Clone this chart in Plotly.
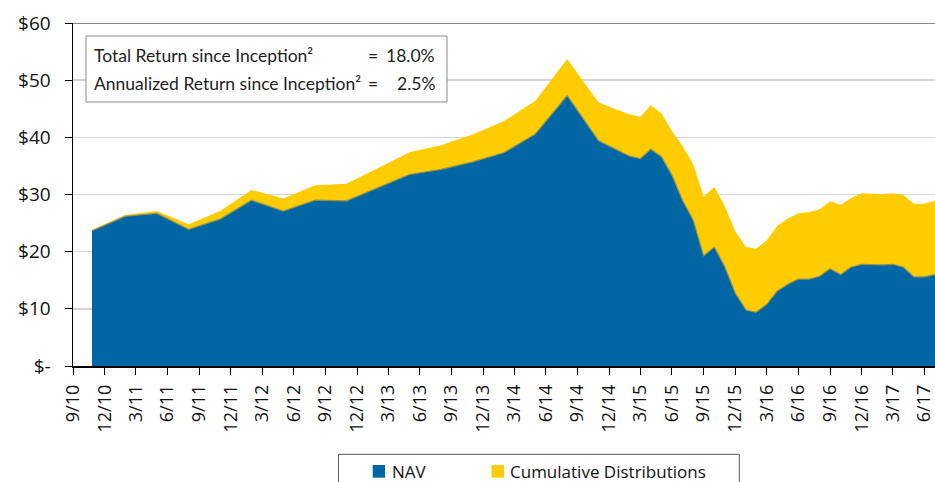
import plotly.graph_objects as go

# ---------------- data ----------------
dates = ["2010-11-24", "2011-02-28", "2011-05-31", "2011-08-31", "2011-11-30",
         "2012-02-29", "2012-05-31", "2012-08-31", "2012-11-30", "2013-05-31",
         "2013-08-31", "2013-11-30", "2014-02-28", "2014-05-31", "2014-08-31",
         "2014-11-30", "2015-02-28", "2015-03-31", "2015-04-30", "2015-05-31",
         "2015-06-30", "2015-07-31", "2015-08-31", "2015-09-30", "2015-10-31",
         "2015-11-30", "2015-12-31", "2016-01-31", "2016-02-29", "2016-03-31",
         "2016-04-30", "2016-05-31", "2016-06-30", "2016-07-31", "2016-08-31",
         "2016-09-30", "2016-10-31", "2016-11-30", "2016-12-31", "2017-01-31",
         "2017-02-28", "2017-03-31", "2017-04-30", "2017-05-31", "2017-06-30",
         "2017-07-31"]

nav = [23.65, 26.2, 26.7, 23.9, 25.7, 29.0, 27.1, 29.0, 28.9, 33.5,
       34.4, 35.7, 37.3, 40.6, 47.3, 39.4, 36.7, 36.3, 37.9, 36.6,
       33.4, 29.0, 25.5, 19.3, 20.8, 17.4, 12.7, 9.8, 9.4, 10.8,
       13.1, 14.3, 15.2, 15.2, 15.7, 17.0, 16.0, 17.3, 17.8, 17.7,
       17.7, 17.8, 17.3, 15.6, 15.6, 16.0]

cum_dist = [0.2, 0.2, 0.4, 0.9, 1.4, 1.8, 2.2, 2.6, 3.0, 3.9,
            4.2, 4.8, 5.5, 5.8, 6.4, 6.7, 7.3, 7.3, 7.7, 7.6,
            7.7, 9.5, 9.8, 10.3, 10.5, 10.6, 10.8, 11.0, 11.1, 11.2,
            11.4, 11.5, 11.5, 11.7, 11.7, 11.8, 12.2, 12.1, 12.4, 12.4,
            12.4, 12.4, 12.6, 12.8, 12.8, 12.9]

tick_dates = ["2010-09-30", "2010-12-31", "2011-03-31", "2011-06-30", "2011-09-30",
              "2011-12-31", "2012-03-31", "2012-06-30", "2012-09-30", "2012-12-31",
              "2013-03-31", "2013-06-30", "2013-09-30", "2013-12-31", "2014-03-31",
              "2014-06-30", "2014-09-30", "2014-12-31", "2015-03-31", "2015-06-30",
              "2015-09-30", "2015-12-31", "2016-03-31", "2016-06-30", "2016-09-30",
              "2016-12-31", "2017-03-31", "2017-06-30"]
tick_labels = ["9/10", "12/10", "3/11", "6/11", "9/11", "12/11", "3/12", "6/12",
               "9/12", "12/12", "3/13", "6/13", "9/13", "12/13", "3/14", "6/14",
               "9/14", "12/14", "3/15", "6/15", "9/15", "12/15", "3/16", "6/16",
               "9/16", "12/16", "3/17", "6/17"]

y_vals = [0, 10, 20, 30, 40, 50, 60]
y_labels = ["$-", "$10", "$20", "$30", "$40", "$50", "$60"]

series_names = ["NAV", "Cumulative Distributions"]
box_lines = ["Total Return since Inception\u00b2",
             "Annualized Return since Inception\u00b2"]
box_values = ["18.0%", "2.5%"]

# ---------------- style ----------------
BLUE = "#0066A4"
YELLOW = "#FFCC00"
W, H = 935, 482
L, R, T, B = 73, 0, 23, 116
PW, PH = W - L - R, H - T - B

def px(x):
    return (x - L) / PW

def py(y):
    return (H - B - y) / PH

NUM_FONT = "Open Sans, Noto Sans, sans-serif"
NARROW = "Lato, Roboto, Liberation Sans, sans-serif"

fig = go.Figure()
fig.add_trace(go.Scatter(
    x=dates, y=nav, name=series_names[0], mode="lines", stackgroup="one",
    fillcolor=BLUE, line=dict(color="#8c9256", width=1.2), showlegend=False,
    hoverinfo="skip"))
fig.add_trace(go.Scatter(
    x=dates, y=cum_dist, name=series_names[1], mode="lines", stackgroup="one",
    fillcolor=YELLOW, line=dict(color=YELLOW, width=0), showlegend=False,
    hoverinfo="skip"))

shapes = []
# top border line at $60
shapes.append(dict(type="line", xref="paper", yref="y", x0=0, x1=1, y0=60, y1=60,
                   line=dict(color="#8a8a8a", width=2), layer="below"))
# text box
shapes.append(dict(type="rect", xref="paper", yref="paper",
                   x0=px(86), x1=px(447), y0=py(36), y1=py(102),
                   line=dict(color="#8a8a8a", width=1), fillcolor="white", layer="above"))
# legend box
shapes.append(dict(type="rect", xref="paper", yref="paper",
                   x0=px(338.5), x1=px(739.3), y0=py(454.3), y1=py(495),
                   line=dict(color="#555555", width=1), fillcolor="white", layer="above"))
# legend swatches
shapes.append(dict(type="rect", xref="paper", yref="paper",
                   x0=px(372.7), x1=px(385), y0=py(465), y1=py(477.7),
                   line=dict(width=0), fillcolor=BLUE, layer="above"))
shapes.append(dict(type="rect", xref="paper", yref="paper",
                   x0=px(491.5), x1=px(504), y0=py(465), y1=py(477.7),
                   line=dict(width=0), fillcolor=YELLOW, layer="above"))

annotations = []
box_font = dict(family=NARROW, size=17.5, color="#1e1e1e")
for i, (txt, val) in enumerate(zip(box_lines, box_values)):
    yc = py(55 + i * 28.5)
    annotations.append(dict(text=txt, xref="paper", yref="paper", x=px(92), y=yc,
                            xanchor="left", yanchor="middle", showarrow=False, font=box_font))
    annotations.append(dict(text="=", xref="paper", yref="paper", x=px(373), y=yc,
                            xanchor="center", yanchor="middle", showarrow=False, font=box_font))
    annotations.append(dict(text=val, xref="paper", yref="paper", x=px(437), y=yc,
                            xanchor="right", yanchor="middle", showarrow=False, font=box_font))

leg_font = dict(family=NUM_FONT, size=17, color="#111111")
annotations.append(dict(text=series_names[0], xref="paper", yref="paper", x=px(389.5), y=py(471.5),
                        xanchor="left", yanchor="middle", showarrow=False, font=leg_font))
annotations.append(dict(text=series_names[1], xref="paper", yref="paper", x=px(508), y=py(471.5),
                        xanchor="left", yanchor="middle", showarrow=False, font=leg_font))

fig.update_layout(
    width=W, height=H, autosize=False,
    margin=dict(l=L, r=R, t=T, b=B, pad=0),
    paper_bgcolor="white", plot_bgcolor="white",
    showlegend=False,
    shapes=shapes, annotations=annotations,
    xaxis=dict(
        type="date", range=["2010-09-30", "2017-07-31"],
        tickmode="array", tickvals=tick_dates, ticktext=tick_labels,
        tickangle=-90, ticks="outside", ticklen=7, tickwidth=1, tickcolor="#000000",
        showline=True, linecolor="#000000", linewidth=1.5,
        showgrid=False, zeroline=False,
        tickfont=dict(family=NUM_FONT, size=18, color="#111111"),
        ticklabelstandoff=3, ticklabeloverflow="allow",
    ),
    yaxis=dict(
        range=[0, 60], tickmode="array", tickvals=y_vals, ticktext=y_labels,
        ticks="outside", ticklen=7, tickwidth=1, tickcolor="#000000",
        showline=True, linecolor="#000000", linewidth=1.5,
        showgrid=True, gridcolor="#d4d4d4", gridwidth=1.5, zeroline=False,
        tickfont=dict(family=NUM_FONT, size=19, color="#111111"),
        ticklabelstandoff=10, ticklabeloverflow="allow",
    ),
)

fig.write_html("out.html", config={"displayModeBar": False, "staticPlot": True},
               post_script="document.body.style.margin='0px';document.body.style.overflow='hidden';")
